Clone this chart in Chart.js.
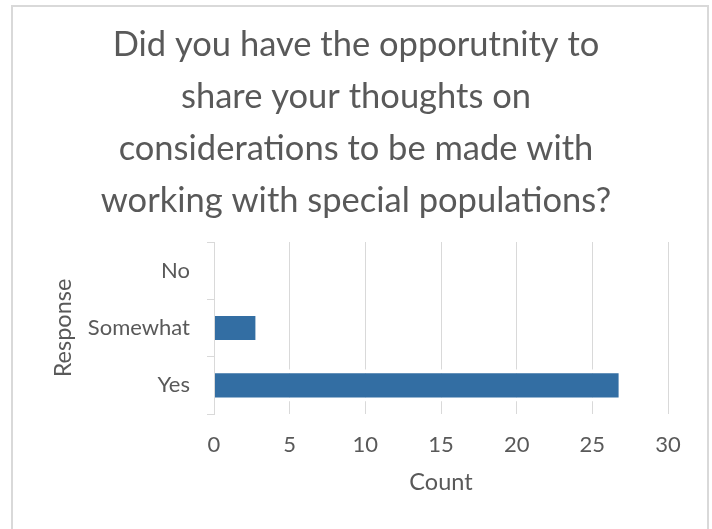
<!DOCTYPE html>
<html>
<head>
<meta charset="utf-8">
<script src="https://cdn.jsdelivr.net/npm/chart.js@4"></script>
<style>
    body { margin: 0; background: #fff; }
    #moldura {
        position: absolute; left: 11px; top: 5px;
        width: 694px; height: 540px;
        border: 2px solid #d9d9d9;
    }
    #area { position: absolute; left: 0; top: 0; width: 712px; height: 529px; }
</style>
</head>
<body>
<div id="moldura"></div>
<div id="area"><canvas id="grafico" width="712" height="529"></canvas></div>
<script>
const titulo = [
    'Did you have the opporutnity to',
    'share your thoughts on',
    'considerations to be made with',
    'working with special populations?'
]
const respostas = ['No', 'Somewhat', 'Yes']
const contagem = [0, 3, 27]
const marcasX = [0, 5, 10, 15, 20, 25, 30]

const corTexto = '#595959'
const corGrade = '#d9d9d9'
const fonte = 'Lato'

const ctx = document.getElementById('grafico').getContext('2d')

new Chart(ctx, {
    type: 'bar',
    data: {
        labels: respostas,
        datasets: [{
            data: contagem,
            backgroundColor: '#336ea3',
            borderColor: '#ffffff',
            borderWidth: { top: 4, right: 4, bottom: 4, left: 0 },
            categoryPercentage: 1,
            barPercentage: 0.56
        }]
    },
    options: {
        indexAxis: 'y',
        responsive: false,
        animation: false,
        layout: { padding: 0 },
        plugins: {
            legend: { display: false },
            tooltip: { enabled: false },
            title: {
                display: true,
                text: titulo,
                color: corTexto,
                font: { family: fonte, size: 34.5, weight: 'normal', lineHeight: '52px' },
                padding: { top: 19, bottom: 15 }
            }
        },
        scales: {
            x: {
                min: 0,
                max: 30,
                afterBuildTicks: escala => {
                    escala.ticks = marcasX.map(v => ({ value: v }))
                },
                afterFit: escala => { escala.height = 115 },
                grid: { color: corGrade, lineWidth: 1, drawTicks: false },
                border: { display: false },
                ticks: {
                    color: corTexto,
                    font: { family: fonte, size: 22 },
                    padding: 18
                },
                title: {
                    display: true,
                    text: 'Count',
                    color: corTexto,
                    font: { family: fonte, size: 23.5 },
                    padding: { top: 4, bottom: 32 }
                }
            },
            y: {
                afterFit: escala => { escala.width = 214 },
                grid: {
                    drawOnChartArea: false,
                    drawTicks: true,
                    tickLength: 7,
                    color: corGrade,
                    offset: true
                },
                border: { display: true, color: corGrade, width: 1, z: 1 },
                ticks: {
                    color: corTexto,
                    font: { family: fonte, size: 22 },
                    padding: 17
                },
                title: {
                    display: true,
                    text: 'Response',
                    color: corTexto,
                    font: { family: fonte, size: 23.5 },
                    padding: { top: 49, bottom: 0 }
                }
            },
            // eixo vazio à direita, só para reservar a margem
            margem: {
                position: 'right',
                afterFit: escala => { escala.width = 44 },
                grid: { display: false },
                border: { display: false },
                ticks: { display: false }
            }
        }
    }
})
</script>
</body>
</html>
